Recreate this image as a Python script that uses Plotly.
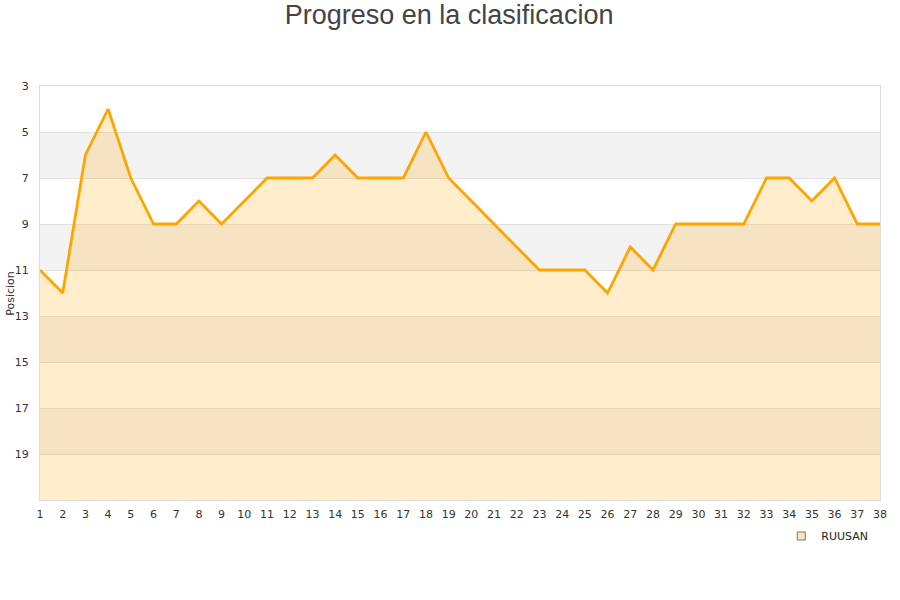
# Progreso en la clasificacion - position per matchday
import plotly.graph_objects as go

# Data
JORNADAS = list(range(1, 39))
POSICION = [11, 12, 6, 4, 7, 9, 9, 8, 9, 8, 7, 7, 7, 6, 7, 7, 7, 5, 7, 8,
            9, 10, 11, 11, 11, 12, 10, 11, 9, 9, 9, 9, 7, 7, 8, 7, 9, 9]
EQUIPO = "RUUSAN"
Y_TICKS = [3, 5, 7, 9, 11, 13, 15, 17, 19]
BANDAS = [(5, 7), (9, 11), (13, 15), (17, 19)]  # shaded rows
FONDO = 21  # bottom of the axis (last position)

fig = go.Figure()

# invisible baseline so the fill goes down to the bottom of the chart
fig.add_trace(go.Scatter(x=JORNADAS, y=[FONDO] * len(JORNADAS), mode="lines",
                         line=dict(width=0), showlegend=False, hoverinfo="skip"))
fig.add_trace(go.Scatter(x=JORNADAS, y=POSICION, mode="lines", name=EQUIPO,
                         line=dict(color="#FFA500", width=2.8),
                         fill="tonexty", fillcolor="rgba(255,165,0,0.2)",
                         showlegend=False))
# legend entry only
fig.add_trace(go.Scatter(x=[None], y=[None], mode="markers", name=EQUIPO,
                         marker=dict(symbol="square", size=8, color="#fbe3bd",
                                     line=dict(color="#777", width=1))))

for a, b in BANDAS:
    fig.add_shape(type="rect", xref="paper", yref="y", x0=0, x1=1, y0=a, y1=b,
                  fillcolor="#f3f3f3", line=dict(width=0), layer="below")

# y axis title placed by hand (a bit closer to the tick labels)
fig.add_annotation(text="Posicion", xref="paper", yref="paper", x=-0.036, y=0.5,
                   textangle=-90, showarrow=False, xanchor="center", yanchor="middle",
                   font=dict(size=11, color="#333"))

fig.update_layout(
    width=900, height=600,
    paper_bgcolor="white", plot_bgcolor="white",
    font=dict(family="DejaVu Sans", color="#333", size=11),
    title=dict(text="Progreso en la clasificacion", x=0.499, xanchor="center",
               y=0.975, yanchor="middle",
               font=dict(family="Liberation Sans", size=27, color="#444")),
    margin=dict(l=40, r=20, t=86, b=100),
    showlegend=True,
    legend=dict(x=0.992, xanchor="right", y=-0.087, yanchor="middle",
                font=dict(size=11, color="#222"), bgcolor="rgba(0,0,0,0)",
                itemwidth=30),
)
fig.update_xaxes(range=[1, 38], tickmode="array", tickvals=JORNADAS,
                 showgrid=False, zeroline=False, showline=True, mirror=True,
                 linecolor="#dddddd", linewidth=1, ticks="", automargin=False,
                 ticklabelstandoff=4,
                 tickfont=dict(size=11, color="#333"))
fig.update_yaxes(range=[FONDO, 3], tickmode="array", tickvals=Y_TICKS,
                 showgrid=True, gridcolor="#e0e0e0", gridwidth=1, zeroline=False,
                 showline=True, mirror=True, linecolor="#dddddd", linewidth=1,
                 ticks="", ticklabelstandoff=8, automargin=False,
                 tickfont=dict(size=11, color="#333"))

# drop the page's default body margin so the figure sits at the top-left corner
fig.write_html("out.html", config={"displayModeBar": False},
               post_script="document.body.style.margin='0';")
